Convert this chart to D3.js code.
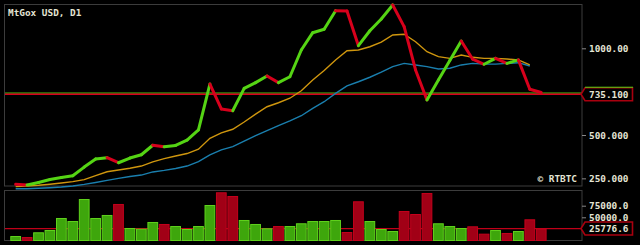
<!DOCTYPE html>
<html>
<head>
<meta charset="utf-8">
<script src="https://cdn.jsdelivr.net/npm/d3@7"></script>
<style>
  body { margin: 0; background: #000; }
  text { font-family: "DejaVu Sans Mono", monospace; font-size: 9.4px; fill: #e4e4d4; }
</style>
</head>
<body>
<div id="chart"></div>
<script>
// daily closes (MtGox USD, D1)
var closes = [216, 212, 226, 243, 255, 265, 315, 362, 369, 340, 367, 386, 441, 432, 440, 471,
  529, 794, 650, 640, 769, 802, 840, 802, 836, 990, 1090, 1110, 1217, 1215, 1015, 1101,
  1169, 1250, 1125, 875, 702, 817, 930, 1042, 937, 908, 942, 913, 933, 764, 745];
// moving averages
var maFast = [202, 206, 210, 216, 223, 231, 243, 266, 288, 298, 308, 321, 345, 364, 379, 393,
  418, 481, 512, 533, 575, 620, 663, 686, 712, 755, 817, 872, 933, 986, 990, 1009,
  1036, 1077, 1081, 1038, 980, 952, 942, 961, 948, 942, 942, 938, 933, 904];
var maSlow = [190, 190, 193, 196, 200, 206, 215, 226, 238, 250, 261, 269, 287, 296, 307, 321,
  346, 385, 414, 433, 465, 496, 525, 554, 581, 611, 654, 692, 740, 783, 807, 833,
  862, 894, 913, 904, 894, 881, 885, 904, 913, 909, 909, 913, 917, 898];
var volumes = [9700, 7500, 17700, 22600, 48500, 42000, 89400, 48500, 55000, 78700, 26900, 25400,
  39900, 35600, 31200, 24800, 31200, 76500, 103900, 95900, 44200, 35600, 26300, 31200,
  31200, 37100, 42000, 42000, 44200, 18300, 84500, 42000, 24800, 20500, 63600, 57100,
  102400, 37100, 31200, 26900, 30600, 14700, 22600, 16200, 20500, 45700, 25776.6];
var priceTicks = [250, 500, 1000];
var volTicks = [50000, 75000];
var lastPrice = 735.1;
var lastVolume = 25776.6;

var W = 640, H = 245;
var green = "#55d414", red = "#d8001c";

var svg = d3.select("#chart").append("svg")
    .attr("width", W).attr("height", H)
    .style("background", "#000");

var days = d3.range(closes.length);
var x = d3.scaleBand().domain(days).range([10.3, 546.6]).paddingInner(0.06).paddingOuter(0);
var cx = function(i) { return x(i) + x.bandwidth() / 2; };

var y = d3.scaleLinear().domain([250, 1000]).range([178.35, 48.3]);
var yv = d3.scaleLinear().domain([0, 75000]).range([240.5, 205.7]);

var fmt = d3.format(".6r");

// panel frames
svg.append("rect").attr("x", 4.5).attr("y", 4.5).attr("width", 577.5).attr("height", 181.5)
    .attr("fill", "none").attr("stroke", "#3c3c3c");
svg.append("rect").attr("x", 4.5).attr("y", 190.5).attr("width", 577.5).attr("height", 50)
    .attr("fill", "none").attr("stroke", "#3c3c3c");

svg.append("text").attr("x", 8).attr("y", 15.5).style("font-weight", "bold").text("MtGox USD, D1");
svg.append("text").attr("x", 577).attr("y", 181.5).attr("text-anchor", "end")
    .style("font-weight", "bold").text("\u00a9 RTBTC");

// price axis
var yAxis = svg.append("g").attr("transform", "translate(582,0)")
    .call(d3.axisRight(y).tickValues(priceTicks).tickFormat(fmt).tickSize(4).tickPadding(3));
var vAxis = svg.append("g").attr("transform", "translate(582,0)")
    .call(d3.axisRight(yv).tickValues(volTicks).tickFormat(fmt).tickSize(4).tickPadding(3));
[yAxis, vAxis].forEach(function(a) {
  a.select(".domain").remove();
  a.selectAll("line").attr("stroke", "#888");
  a.selectAll("text").attr("font-family", null).attr("font-size", null)
    .style("font-weight", "bold");
});

// volume level line
svg.append("line").attr("x1", 5).attr("x2", 582)
    .attr("y1", yv(lastVolume)).attr("y2", yv(lastVolume))
    .attr("stroke", "#c00018").attr("stroke-width", 1.2);

// volume bars
svg.selectAll(".vbar").data(volumes).enter().append("rect")
    .attr("class", "vbar")
    .attr("x", function(d, i) { return x(i) + 0.5; })
    .attr("y", function(d) { return yv(d) + 0.5; })
    .attr("width", x.bandwidth() - 1)
    .attr("height", function(d) { return Math.max(0, yv(0) - yv(d) - 0.5); })
    .attr("fill", function(d, i) { return i > 0 && closes[i] < closes[i - 1] ? "#a10016" : "#3ea60c"; })
    .attr("stroke", function(d, i) { return i > 0 && closes[i] < closes[i - 1] ? "#c4001c" : "#5fd21c"; })
    .attr("stroke-width", 1);

// last price line
svg.append("line").attr("x1", 5).attr("x2", 582)
    .attr("y1", y(lastPrice) - 1.2).attr("y2", y(lastPrice) - 1.2)
    .attr("stroke", green).attr("stroke-width", 1);
svg.append("line").attr("x1", 5).attr("x2", 582)
    .attr("y1", y(lastPrice)).attr("y2", y(lastPrice))
    .attr("stroke", red).attr("stroke-width", 1.3);

// moving averages
var line = d3.line().x(function(d, i) { return cx(i); }).y(function(d) { return y(d); });
svg.append("path").datum(maSlow).attr("d", line)
    .attr("fill", "none").attr("stroke", "#1a7fae").attr("stroke-width", 1.4);
svg.append("path").datum(maFast).attr("d", line)
    .attr("fill", "none").attr("stroke", "#cf960e").attr("stroke-width", 1.4);

// close line, segment coloured by direction
var segs = d3.pairs(days);
svg.selectAll(".seg").data(segs).enter().append("line")
    .attr("class", "seg")
    .attr("x1", function(d) { return cx(d[0]); })
    .attr("y1", function(d) { return y(closes[d[0]]); })
    .attr("x2", function(d) { return cx(d[1]); })
    .attr("y2", function(d) { return y(closes[d[1]]); })
    .attr("stroke", function(d) { return closes[d[1]] < closes[d[0]] ? red : green; })
    .attr("stroke-width", 3)
    .attr("stroke-linecap", "round");

// value tags on the right
function tag(yPos, label, topColor) {
  var g = svg.append("g").attr("transform", "translate(0," + yPos + ")");
  g.append("path")
    .attr("d", "M581,0 L585,-6.5 L632.5,-6.5 L632.5,6.5 L585,6.5 Z")
    .attr("fill", "#000").attr("stroke", "#a8000f").attr("stroke-width", 1.6);
  if (topColor) {
    g.append("line").attr("x1", 585).attr("x2", 633).attr("y1", -7).attr("y2", -7)
      .attr("stroke", topColor).attr("stroke-width", 1);
  }
  g.append("text").attr("x", 589).attr("y", 3.5).style("font-weight", "bold").text(label);
}
tag(y(lastPrice), fmt(lastPrice), green);
tag(yv(lastVolume), fmt(lastVolume), null);
</script>
</body>
</html>
